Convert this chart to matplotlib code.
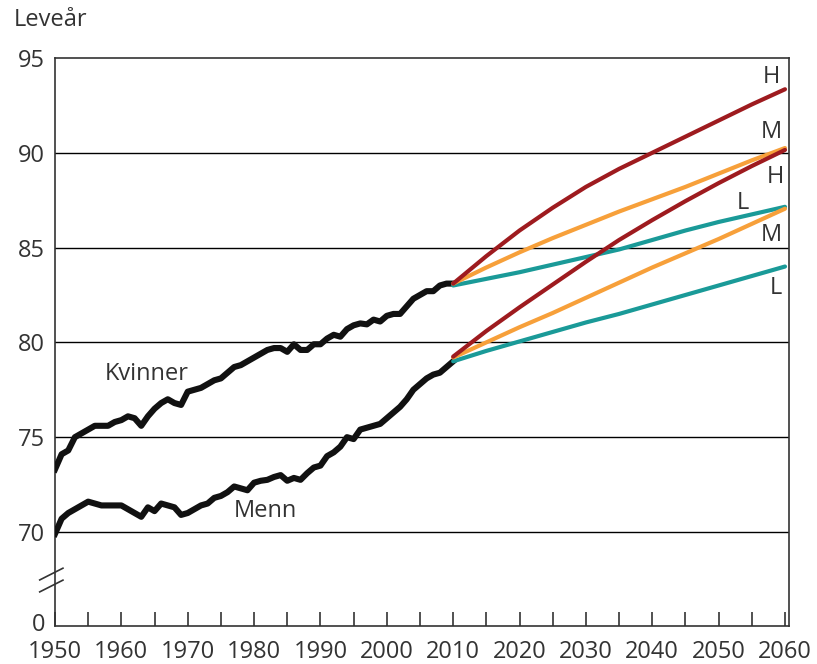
import numpy as np
import matplotlib
matplotlib.use("Agg")
import matplotlib.pyplot as plt

# historical life expectancy, 1950-2010
years_hist = np.arange(1950, 2011)
kvinner = [73.3, 74.1, 74.3, 75.0, 75.2, 75.4, 75.6, 75.6, 75.6, 75.8,
           75.9, 76.1, 76.0, 75.6, 76.1, 76.5, 76.8, 77.0, 76.8, 76.7,
           77.4, 77.5, 77.6, 77.8, 78.0, 78.1, 78.4, 78.7, 78.8, 79.0,
           79.2, 79.4, 79.6, 79.7, 79.7, 79.5, 79.9, 79.6, 79.6, 79.9,
           79.9, 80.2, 80.4, 80.3, 80.7, 80.9, 81.0, 80.95, 81.2, 81.1,
           81.4, 81.5, 81.5, 81.9, 82.3, 82.5, 82.7, 82.7, 83.0, 83.1,
           83.1]
menn = [69.9, 70.7, 71.0, 71.2, 71.4, 71.6, 71.5, 71.4, 71.4, 71.4,
        71.4, 71.2, 71.0, 70.8, 71.3, 71.1, 71.5, 71.4, 71.3, 70.9,
        71.0, 71.2, 71.4, 71.5, 71.8, 71.9, 72.1, 72.4, 72.3, 72.2,
        72.6, 72.7, 72.75, 72.9, 73.0, 72.7, 72.85, 72.75, 73.1, 73.4,
        73.5, 74.0, 74.2, 74.5, 75.0, 74.9, 75.4, 75.5, 75.6, 75.7,
        76.0, 76.3, 76.6, 77.0, 77.5, 77.8, 78.1, 78.3, 78.4, 78.7,
        79.0]

# projections 2010-2060 (H = high, M = middle, L = low)
years_proj = np.arange(2010, 2061, 5)
kvinner_H = [83.1, 84.55, 85.9, 87.1, 88.2, 89.15, 90.0, 90.85, 91.7, 92.55, 93.35]
kvinner_M = [83.1, 83.95, 84.75, 85.5, 86.2, 86.9, 87.55, 88.2, 88.9, 89.6, 90.25]
kvinner_L = [83.0, 83.35, 83.7, 84.1, 84.5, 84.9, 85.4, 85.9, 86.35, 86.75, 87.15]
menn_H = [79.25, 80.6, 81.85, 83.05, 84.25, 85.4, 86.45, 87.45, 88.4, 89.3, 90.15]
menn_M = [79.2, 80.0, 80.8, 81.55, 82.35, 83.15, 83.95, 84.7, 85.45, 86.25, 87.05]
menn_L = [79.0, 79.55, 80.05, 80.55, 81.05, 81.5, 82.0, 82.5, 83.0, 83.5, 84.0]

red = "#9e1b1f"
orange = "#f7a03a"
teal = "#1a9a98"
dark = "#333333"

plt.rcParams['font.family'] = ['Open Sans', 'DejaVu Sans']

fig = plt.figure(figsize=(8.17, 6.64), dpi=100)
ax = fig.add_axes([0.0673, 0.0572, 0.8984, 0.8555])

y_bottom = 65.04
ax.set_xlim(1950, 2060.6)
ax.set_ylim(y_bottom, 95)

for g in [70, 75, 80, 85, 90]:
    ax.axhline(g, color="black", lw=1.0, zorder=1)

ax.plot(years_hist, kvinner, color="#111111", lw=4.4, solid_joinstyle="round", zorder=3)
ax.plot(years_hist, menn, color="#111111", lw=4.4, solid_joinstyle="round", zorder=3)

for vals, col in [(kvinner_L, teal), (kvinner_M, orange), (kvinner_H, red),
                  (menn_L, teal), (menn_M, orange), (menn_H, red)]:
    ax.plot(years_proj, vals, color=col, lw=3, solid_capstyle="round", zorder=4)

# labels
ax.text(1963.9, 78.33, "Kvinner", fontsize=17, color=dark, ha="center", va="center")
ax.text(1981.65, 71.1, "Menn", fontsize=17, color=dark, ha="center", va="center")
for x, y, s in [(2058.0, 94.0, "H"), (2058.0, 91.1, "M"), (2058.5, 88.74, "H"),
                (2053.7, 87.34, "L"), (2058.0, 85.66, "M"), (2058.6, 82.85, "L")]:
    ax.text(x, y, s, fontsize=17, color=dark, ha="center", va="center")

# axes styling
for sp in ax.spines.values():
    sp.set_color(dark)
    sp.set_linewidth(1.2)

ax.set_xticks(np.arange(1950, 2061, 5))
ax.set_xticklabels([str(y) if y % 10 == 0 else "" for y in range(1950, 2061, 5)])
ax.tick_params(axis="x", direction="in", length=10, width=1.2, color=dark,
               labelsize=17, labelcolor=dark, pad=10)

ax.set_yticks([y_bottom + 0.21, 70, 75, 80, 85, 90, 95])
ax.set_yticklabels(["0", "70", "75", "80", "85", "90", "95"])
ax.tick_params(axis="y", length=0, labelsize=17, labelcolor=dark, pad=7)

# axis break marks
for yb in [67.15, 67.78]:
    ax.plot([1947.7, 1951.2], [yb - 0.31, yb + 0.31], color=dark, lw=1.2,
            clip_on=False, zorder=5)

fig.text(14 / 817, 1 - 20 / 664, "Leveår", fontsize=17, color=dark, ha="left", va="center")

fig.savefig("out.png", dpi=100)
